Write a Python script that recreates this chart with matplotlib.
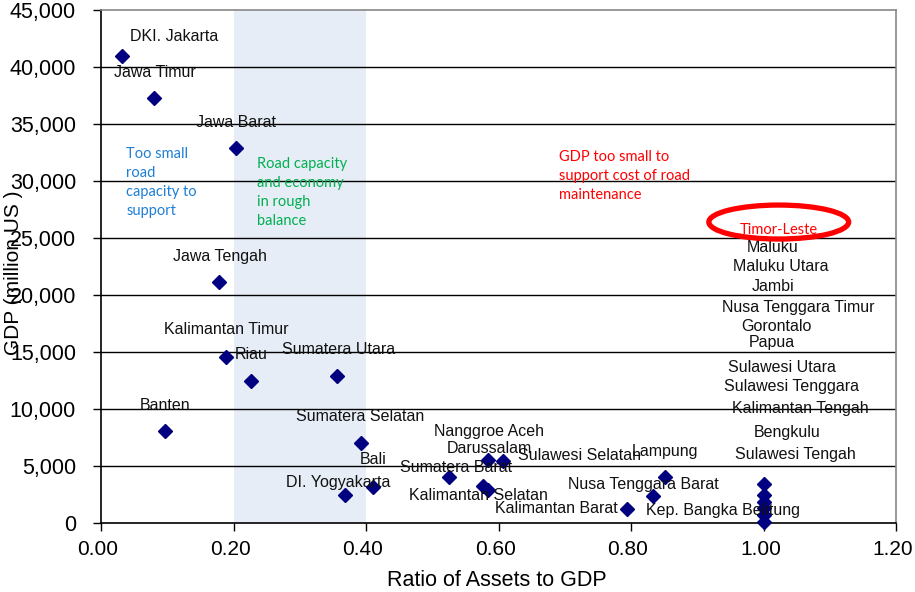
import matplotlib
matplotlib.use('Agg')
import matplotlib.pyplot as plt
import matplotlib.transforms as mtransforms
from matplotlib.patches import Ellipse
from matplotlib.ticker import FuncFormatter

plt.rcParams.update({'font.family': ['Liberation Sans', 'DejaVu Sans']})

# provinces: asset/GDP ratio and GDP (million US$)
ratio = [0.032, 0.080, 0.204, 0.178, 0.189, 0.226, 0.356, 0.097, 0.392, 0.410,
         0.368, 0.525, 0.584, 0.607, 0.577, 0.584, 0.794, 0.833, 0.851,
         1.00, 1.00, 1.00, 1.00, 1.00, 1.00]
gdp = [40950, 37270, 32890, 21140, 14560, 12450, 12890, 8070, 7020, 3160,
       2460, 4030, 5530, 5440, 3250, 2890, 1230, 2370, 4030,
       3420, 2460, 1840, 1320, 700, 90]

# point labels as placed on the chart (text, x, y)
labels = [
    ('DKI. Jakarta', 0.110, 42710), ('Jawa Timur', 0.082, 39550),
    ('Jawa Barat', 0.204, 35170), ('Jawa Tengah', 0.180, 23420),
    ('Kalimantan Timur', 0.189, 16930), ('Riau', 0.226, 14820),
    ('Sumatera Utara', 0.358, 15260), ('Banten', 0.097, 10350),
    ('Sumatera Selatan', 0.391, 9380), ('Bali', 0.411, 5610),
    ('DI. Yogyakarta', 0.358, 3510), ('Nanggroe Aceh\nDarussalam', 0.586, 7280),
    ('Sumatera Barat', 0.536, 4910), ('Sulawesi Selatan', 0.723, 5960),
    ('Kalimantan Selatan', 0.569, 2370), ('Kalimantan Barat', 0.688, 1230),
    ('Nusa Tenggara Barat', 0.818, 3420), ('Lampung', 0.851, 6310),
    ('Kep. Bangka Belitung', 0.939, 1140), ('Maluku', 1.014, 24210),
    ('Maluku Utara', 1.026, 22540), ('Jambi', 1.014, 20780),
    ('Nusa Tenggara Timur', 1.052, 18940), ('Gorontalo', 1.019, 17280),
    ('Papua', 1.013, 15790), ('Sulawesi Utara', 1.028, 13680),
    ('Sulawesi Tenggara', 1.043, 12010), ('Kalimantan Tengah', 1.055, 10000),
    ('Bengkulu', 1.035, 7980), ('Sulawesi Tengah', 1.048, 6050),
]

fig = plt.figure(figsize=(9.15, 5.92), dpi=100)
ax = fig.add_axes([101 / 915, 1 - 523 / 592, 795 / 915, 513 / 592])

ax.axvspan(0.2, 0.4, color='#E6EDF6', zorder=0, lw=0)
for yv in range(5000, 45000, 5000):
    ax.axhline(yv, color='black', lw=1, zorder=1)

ax.plot(ratio, gdp, 'D', color='#000080', ms=7.5, ls='none', zorder=3, clip_on=False)

for txt, x, y in labels:
    ax.text(x, y, txt, ha='center', va='center', fontsize=11.5, color='#111111', zorder=4,
            linespacing=1.2)

callout = ['Lato', 'DejaVu Sans']
ax.text(0.038, 32980, 'Too small\nroad\ncapacity to\nsupport', color='#1F7FD6',
        fontsize=10.5, family=callout, va='top', ha='left', linespacing=1.45)
ax.text(0.235, 32100, 'Road capacity\nand economy\nin rough\nbalance', color='#00B050',
        fontsize=10.5, family=callout, va='top', ha='left', linespacing=1.45)
ax.text(0.691, 32710, 'GDP too small to\nsupport cost of road\nmaintenance', color='#FF0000',
        fontsize=10.5, family=callout, va='top', ha='left', linespacing=1.45)
ax.text(1.023, 25700, 'Timor-Leste', color='#FF0000', fontsize=10.5, family=callout,
        ha='center', va='center', zorder=4)
ax.add_patch(Ellipse((1.023, 26400), 0.211, 2980, fill=False, ec='#FF0000', lw=3.8, zorder=5))

ax.set_xlim(0, 1.2)
ax.set_ylim(0, 45000)
ax.set_xticks([0, 0.2, 0.4, 0.6, 0.8, 1.0, 1.2])
ax.set_yticks(range(0, 45001, 5000))
ax.xaxis.set_major_formatter(FuncFormatter(lambda v, p: f'{v:.2f}'))
ax.yaxis.set_major_formatter(FuncFormatter(lambda v, p: f'{v:,.0f}'))
ax.tick_params(axis='both', direction='out', length=6, width=1, color='black')
ax.tick_params(axis='y', pad=12, labelsize=15.5)
ax.tick_params(axis='x', pad=6, labelsize=15)
shift = mtransforms.ScaledTranslation(-3 / 100, 0, fig.dpi_scale_trans)
for lbl in ax.get_xticklabels():
    lbl.set_transform(lbl.get_transform() + shift)
for s in ('top', 'right'):
    ax.spines[s].set_color('#888888')
for s in ('left', 'bottom'):
    ax.spines[s].set_color('black')
for s in ax.spines.values():
    s.set_linewidth(1.2)

fig.text(497 / 915, 1 - 580 / 592, 'Ratio of Assets to GDP', ha='center', va='center', fontsize=15.5)
fig.text(14 / 915, 1 - 273 / 592, 'GDP (million US )', ha='center', va='center',
         rotation=90, fontsize=15)

fig.savefig('out.png', dpi=100)
